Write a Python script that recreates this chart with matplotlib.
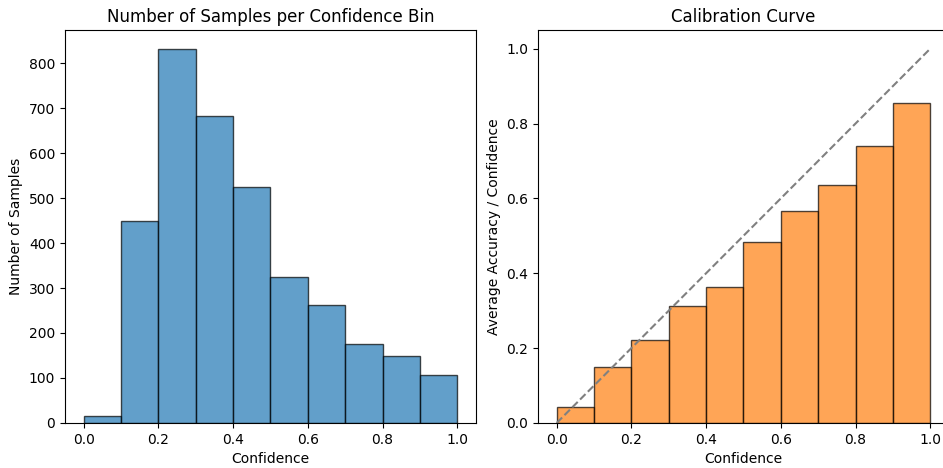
import numpy as np
import matplotlib
matplotlib.use('Agg')
import matplotlib.pyplot as plt

# bin edges and values
bin_edges = [0.0, 0.1, 0.2, 0.3, 0.4, 0.5, 0.6, 0.7, 0.8, 0.9, 1.0]
sample_counts = [15, 448, 832, 683, 525, 325, 262, 175, 149, 106]
avg_accuracy = [0.044, 0.150, 0.221, 0.312, 0.363, 0.483, 0.566, 0.637, 0.740, 0.854]

edges = np.array(bin_edges)
lefts = edges[:-1]
widths = np.diff(edges)

fig = plt.figure(figsize=(9.43, 4.68), dpi=100)
ax1 = fig.add_axes([0.0689, 0.0962, 0.4358, 0.8398])
ax2 = fig.add_axes([0.5705, 0.0962, 0.4358, 0.8398])

#histogram of samples per bin
ax1.bar(lefts, sample_counts, width=widths, align='edge',
        color='tab:blue', alpha=0.7, edgecolor='black')
ax1.set_title('Number of Samples per Confidence Bin')
ax1.set_xlabel('Confidence')
ax1.set_ylabel('Number of Samples')

#calibration curve
ax2.bar(lefts, avg_accuracy, width=widths, align='edge',
        color='tab:orange', alpha=0.7, edgecolor='black')
ax2.plot([0, 1], [0, 1], linestyle='--', color='gray')
ax2.set_title('Calibration Curve')
ax2.set_xlabel('Confidence')
ax2.set_ylabel('Average Accuracy / Confidence')

fig.savefig('out.png', dpi=100)
